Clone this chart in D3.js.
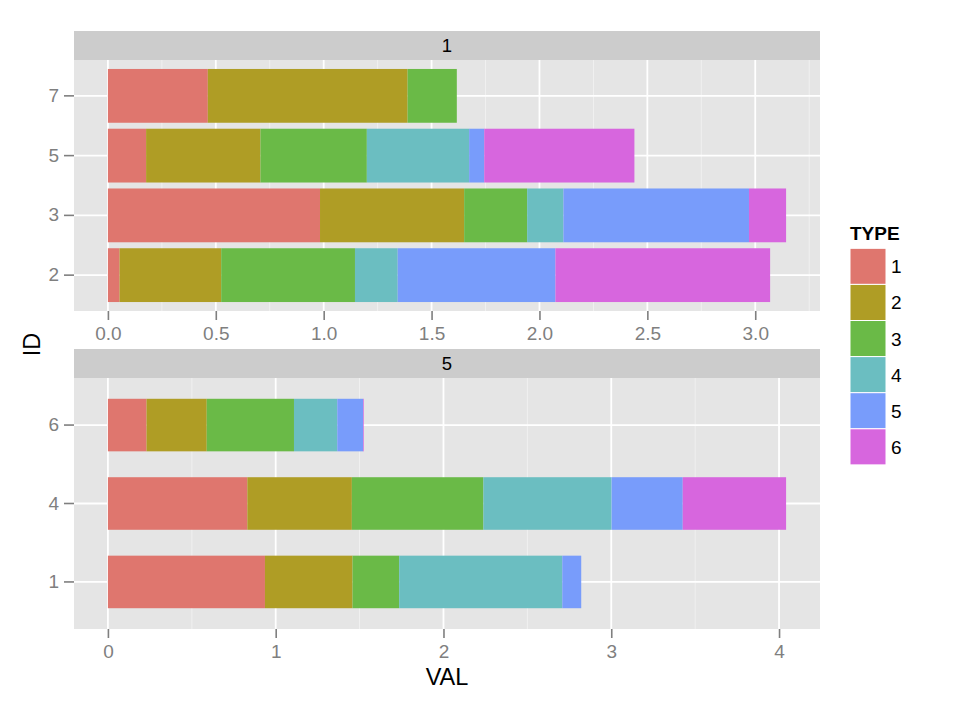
<!DOCTYPE html>
<html>
<head>
<meta charset="UTF-8">
<title>VAL by ID, faceted</title>
<script src="https://cdn.jsdelivr.net/npm/d3@7/dist/d3.min.js"></script>
<style>
  body { margin: 0; background: #fff; }
  svg { font-family: "Liberation Sans", Arial, sans-serif; }
  .tick text { fill: #7f7f7f; }
  .tick line { stroke: #7f7f7f; }
</style>
</head>
<body>
<svg id="chart" width="963" height="707"></svg>
<script>
// ---------------------------------------------------
// data
// ---------------------------------------------------
const types = ["1", "2", "3", "4", "5", "6"];
const typeColors = ["#df766e", "#af9d25", "#6aba47", "#6bbec1", "#789cfb", "#d766de"];

const facetNames = ["1", "5"];

// facet "1"
const ids1 = ["2", "3", "5", "7"];
const vals1 = [
  [0.054, 0.471, 0.620, 0.198, 0.731, 0.995],
  [0.983, 0.668, 0.292, 0.168, 0.860, 0.172],
  [0.177, 0.530, 0.493, 0.474, 0.070, 0.696],
  [0.463, 0.926, 0.228, 0, 0, 0]
];
const ticks1 = [0, 0.5, 1.0, 1.5, 2.0, 2.5, 3.0];

// facet "5"
const ids5 = ["1", "4", "6"];
const vals5 = [
  [0.936, 0.522, 0.278, 0.972, 0.113, 0],
  [0.831, 0.623, 0.784, 0.764, 0.424, 0.616],
  [0.230, 0.359, 0.520, 0.258, 0.154, 0.004]
];
const ticks5 = [0, 1, 2, 3, 4];

// ---------------------------------------------------
// layout
// ---------------------------------------------------
const svg = d3.select("#chart");
const panelLeft = 74, panelRight = 820;
const panels = [
  { name: facetNames[0], ids: ids1, vals: vals1, ticks: ticks1, fmt: d3.format(".1f"), barWidth: 0.9, stripTop: 31, top: 60, bottom: 311 },
  { name: facetNames[1], ids: ids5, vals: vals5, ticks: ticks5, fmt: d3.format("d"), barWidth: 0.67, stripTop: 349, top: 378, bottom: 629 }
];

const color = d3.scaleOrdinal().domain(types).range(typeColors);

function drawPanel(p) {
  const rows = p.ids.map((id, i) => {
    const r = { id: id };
    types.forEach((t, j) => { r[t] = p.vals[i][j]; });
    return r;
  });
  const series = d3.stack().keys(types)(rows);
  const maxVal = d3.max(rows, r => d3.sum(types, t => r[t]));

  const x = d3.scaleLinear()
    .domain([-0.05 * maxVal, 1.05 * maxVal])
    .range([panelLeft, panelRight]);
  // ggplot discrete axis: 0.6 expansion each side, bar centred on category
  const pin = 1 - p.barWidth;
  const y = d3.scaleBand()
    .domain(p.ids.slice().reverse())
    .range([p.top, p.bottom])
    .paddingInner(pin)
    .paddingOuter(0.1 + pin / 2);

  const g = svg.append("g");

  // strip
  g.append("rect")
    .attr("x", panelLeft).attr("y", p.stripTop)
    .attr("width", panelRight - panelLeft).attr("height", p.top - p.stripTop)
    .attr("fill", "#cccccc");
  g.append("text")
    .attr("x", (panelLeft + panelRight) / 2)
    .attr("y", (p.stripTop + p.top) / 2 + 6.7)
    .attr("text-anchor", "middle")
    .attr("font-size", 18.5)
    .attr("fill", "#000")
    .text(p.name);

  // background
  g.append("rect")
    .attr("x", panelLeft).attr("y", p.top)
    .attr("width", panelRight - panelLeft).attr("height", p.bottom - p.top)
    .attr("fill", "#e5e5e5");

  // minor grid
  const step = p.ticks[1] - p.ticks[0];
  const minor = [];
  for (let i = -1; i < p.ticks.length; i++) {
    const v = p.ticks[0] + step * i + step / 2;
    if (v > x.domain()[0] && v < x.domain()[1]) minor.push(v);
  }
  g.selectAll(".minor").data(minor).enter().append("line")
    .attr("x1", d => x(d)).attr("x2", d => x(d))
    .attr("y1", p.top).attr("y2", p.bottom)
    .attr("stroke", "#f2f2f2").attr("stroke-width", 0.9);

  // major grid
  g.selectAll(".majx").data(p.ticks).enter().append("line")
    .attr("x1", d => x(d)).attr("x2", d => x(d))
    .attr("y1", p.top).attr("y2", p.bottom)
    .attr("stroke", "#fff").attr("stroke-width", 1.8);
  g.selectAll(".majy").data(p.ids).enter().append("line")
    .attr("x1", panelLeft).attr("x2", panelRight)
    .attr("y1", d => y(d) + y.bandwidth() / 2).attr("y2", d => y(d) + y.bandwidth() / 2)
    .attr("stroke", "#fff").attr("stroke-width", 1.8);

  // bars
  g.selectAll(".layer").data(series).enter().append("g")
    .attr("fill", d => color(d.key))
    .selectAll("rect").data(d => d).enter().append("rect")
    .attr("x", d => x(d[0]))
    .attr("width", d => Math.max(0, x(d[1]) - x(d[0])))
    .attr("y", d => y(d.data.id))
    .attr("height", y.bandwidth());

  // axes
  const xAxis = d3.axisBottom(x).tickValues(p.ticks).tickFormat(p.fmt).tickSize(9).tickPadding(7);
  const ax = g.append("g").attr("transform", "translate(0," + p.bottom + ")").call(xAxis);
  ax.select(".domain").remove();
  ax.selectAll(".tick line").attr("stroke-width", 1.6);
  ax.selectAll(".tick text").attr("font-size", 19).attr("fill", "#7f7f7f");

  const yAxis = d3.axisLeft(y).tickSize(10).tickPadding(5);
  const ay = g.append("g").attr("transform", "translate(" + panelLeft + ",0)").call(yAxis);
  ay.select(".domain").remove();
  ay.selectAll(".tick line").attr("stroke-width", 1.6);
  ay.selectAll(".tick text").attr("font-size", 19).attr("fill", "#7f7f7f");
}

panels.forEach(drawPanel);

// axis titles
svg.append("text")
  .attr("x", (panelLeft + panelRight) / 2)
  .attr("y", 685)
  .attr("text-anchor", "middle")
  .attr("font-size", 23.5)
  .text("VAL");
svg.append("text")
  .attr("transform", "translate(40," + (panels[0].top + panels[1].bottom) / 2 + ") rotate(-90)")
  .attr("text-anchor", "middle")
  .attr("font-size", 23.5)
  .text("ID");

// legend
const legend = svg.append("g").attr("transform", "translate(850,0)");
legend.append("text")
  .attr("x", 0).attr("y", 240)
  .attr("font-size", 19)
  .attr("font-weight", "bold")
  .text("TYPE");
const keySize = 36.1;
const keys = legend.selectAll(".key").data(types).enter().append("g")
  .attr("transform", (d, i) => "translate(0," + (248.3 + i * keySize) + ")");
keys.append("rect")
  .attr("width", 36).attr("height", keySize)
  .attr("fill", d => color(d))
  .attr("stroke", "#fff").attr("stroke-width", 1);
keys.append("text")
  .attr("x", 41).attr("y", keySize / 2 + 7)
  .attr("font-size", 19)
  .text(d => d);
</script>
</body>
</html>
